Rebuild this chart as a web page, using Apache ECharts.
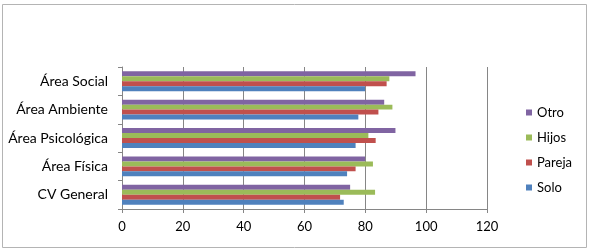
<!DOCTYPE html>
<html>
<head>
<meta charset="utf-8">
<script src="https://cdn.jsdelivr.net/npm/echarts@6/dist/echarts.min.js"></script>
<style>
  html, body { margin: 0; padding: 0; background: #fff; }
  #chart { width: 589px; height: 252px; }
</style>
</head>
<body>
<div id="chart"></div>
<script>
const categories = ['CV General', 'Área Física', 'Área Psicológica', 'Área Ambiente', 'Área Social'];
const seriesNames = ['Solo', 'Pareja', 'Hijos', 'Otro'];
const solo = [72.9, 74.0, 76.8, 77.7, 79.9];
const pareja = [71.7, 76.8, 83.4, 84.3, 87.0];
const hijos = [83.2, 82.5, 81.0, 88.9, 87.9];
const otro = [75.0, 79.9, 89.9, 86.2, 96.5];
const xTicks = [0, 20, 40, 60, 80, 100, 120];

const colors = ['#4F81BD', '#C0504D', '#9BBB59', '#8064A2'];
const values = [solo, pareja, hijos, otro];
const font = 'Lato, Open Sans, sans-serif';

const chart = echarts.init(document.getElementById('chart'));

// ECharts stacks the first series at the top of each group, so go from Otro down to Solo
const order = [3, 2, 1, 0];

chart.setOption({
    animation: false,
    graphic: [{
        type: 'rect',
        shape: { x: 2.5, y: 4.5, width: 584, height: 243 },
        style: { fill: 'none', stroke: '#b4b4b4', lineWidth: 1 },
        silent: true
    }],
    grid: { left: 122, right: 102, top: 67, bottom: 43 },
    legend: {
        orient: 'vertical',
        left: 521,
        top: 101,
        itemWidth: 6,
        itemHeight: 6,
        itemGap: 12,
        icon: 'rect',
        data: order.map(i => seriesNames[i]),
        textStyle: { fontFamily: font, fontSize: 13, color: '#000' }
    },
    xAxis: {
        type: 'value',
        min: xTicks[0],
        max: xTicks[xTicks.length - 1],
        interval: 20,
        axisLine: { show: true, lineStyle: { color: '#868686' } },
        axisTick: { show: true, length: 4, lineStyle: { color: '#868686' } },
        axisLabel: { fontFamily: font, fontSize: 13, color: '#000', margin: 11 },
        splitLine: { show: true, lineStyle: { color: '#868686' } }
    },
    yAxis: {
        type: 'category',
        data: categories,
        axisLine: { show: true, lineStyle: { color: '#868686' } },
        axisTick: { show: true, length: 4, lineStyle: { color: '#868686' } },
        axisLabel: { fontFamily: font, fontSize: 14, color: '#000', margin: 14 }
    },
    series: order.map(i => ({
        name: seriesNames[i],
        type: 'bar',
        data: values[i],
        itemStyle: { color: colors[i] },
        barGap: '0%',
        barCategoryGap: '30%'
    }))
});
</script>
</body>
</html>
